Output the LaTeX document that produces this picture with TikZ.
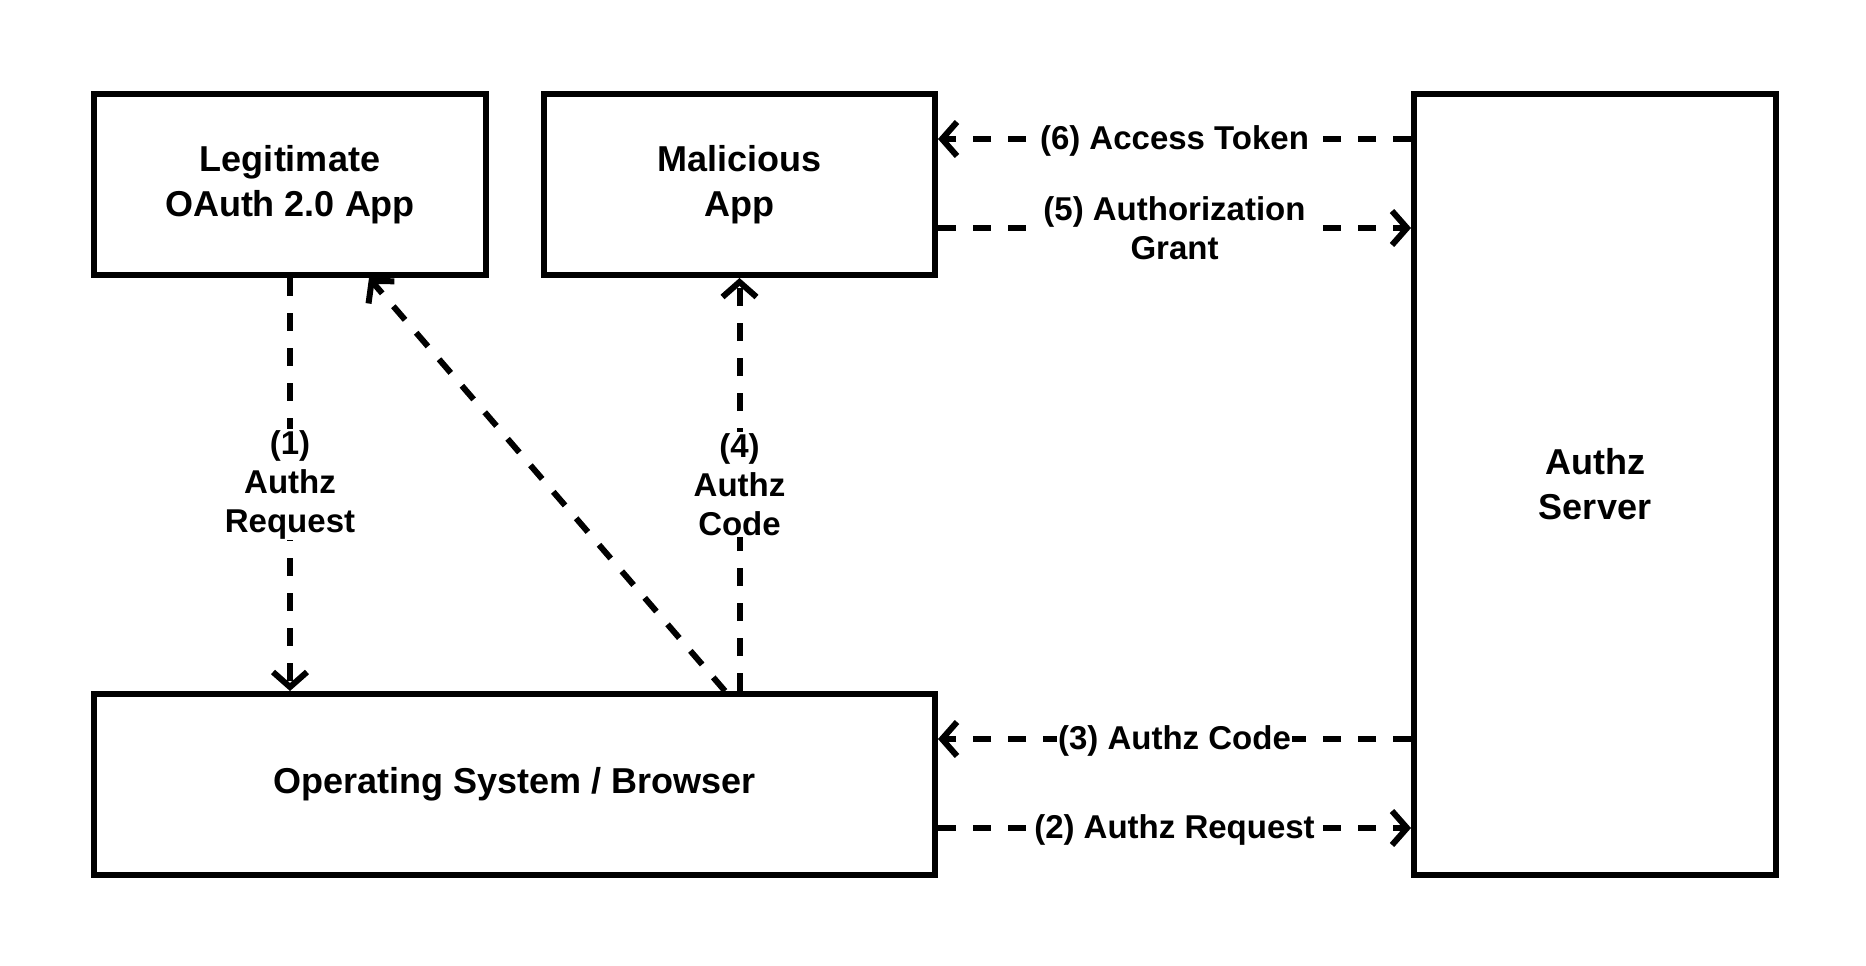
\documentclass[tikz,border=0pt]{standalone}
\usepackage{fontspec}
\setmainfont{Liberation Sans}
\usetikzlibrary{arrows.meta}
\begin{document}
\begin{tikzpicture}[x=1pt,y=-1pt,
  box/.style={draw=black,line width=6pt,fill=white,inner sep=0pt,align=center,
    font=\fontsize{36}{45}\selectfont\bfseries},
  flow/.style={line width=6pt,dash pattern=on 18pt off 17pt,
    -{Straight Barb[length=15pt,width=34pt,line width=6pt]}},
  lbl/.style={fill=white,inner sep=1pt,align=center,
    font=\fontsize{33}{39}\selectfont\bfseries}]
\useasboundingbox (0,0) rectangle (1866,966);
\node[box,minimum width=392pt,minimum height=181pt] (legit) at (290,184.5) {Legitimate\\OAuth 2.0 App};
\node[box,minimum width=391pt,minimum height=181pt] (mal) at (739.5,184.5) {Malicious\\App};
\node[box,minimum width=841pt,minimum height=181pt] (os) at (514.5,784.5) {Operating System / Browser};
\node[box,minimum width=362pt,minimum height=781pt] (srv) at (1595,484.5) {Authz\\Server};
\coordinate (m6) at ([yshift=45.5pt]mal.east);
\coordinate (m5) at ([yshift=-43.5pt]mal.east);
\coordinate (o3) at ([yshift=45.5pt]os.east);
\coordinate (o2) at ([yshift=-43.5pt]os.east);
\coordinate (dstart) at ([xshift=210.5pt]os.north);
\coordinate (dend) at ([xshift=79pt]legit.south);
\draw[flow] (srv.west |- m6) -- node[lbl,yshift=-2pt]{(6) Access Token} (m6);
\draw[flow] (m5) -- node[lbl]{(5) Authorization\\Grant} (srv.west |- m5);
\draw[flow] (srv.west |- o3) -- node[lbl,yshift=-2pt]{(3) Authz Code} (o3);
\draw[flow] (o2) -- node[lbl,yshift=-2pt]{(2) Authz Request} (srv.west |- o2);
\draw[flow] (legit.south) -- node[lbl]{(1)\\Authz\\Request} (legit.south |- os.north);
\draw[flow] (mal.south |- os.north) -- node[lbl]{(4)\\Authz\\Code} (mal.south);
\draw[flow] (dstart) -- (dend);
\end{tikzpicture}
\end{document}
